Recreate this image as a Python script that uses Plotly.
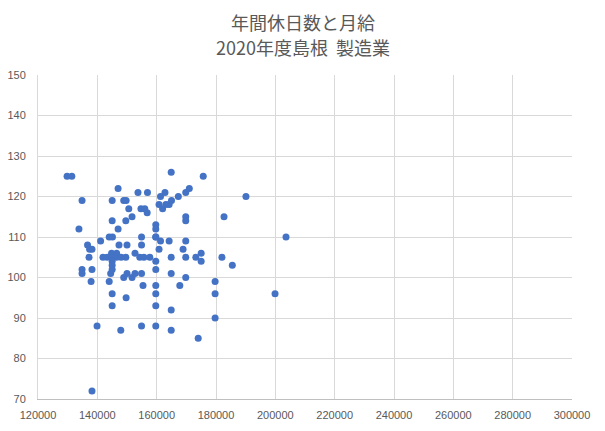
import plotly.graph_objects as go

# 月給 (円) と 年間休日数 — 2020年度 島根 製造業
salary = [
    129800, 131400, 134850, 133800, 136700, 137400, 138200, 137200, 134850, 134850,
    138200, 137900, 139900, 138200, 141100, 144000, 145100, 147000, 145000, 148900,
    149700, 150600, 145000, 149600, 151700, 147000, 147300, 150000, 144800, 146500,
    141900, 143300, 144900, 146500, 148000, 149600, 152700, 154300, 155700, 157700,
    145000, 145000, 145000, 144500, 148900, 150000, 151700, 152700, 154900, 144000,
    145000, 149700, 145000, 147900, 155400, 159700, 159700, 159700, 159700, 159700,
    159700, 159700, 159700, 159700, 159700, 154900, 154900, 153700, 156900, 154700,
    156000, 156800, 160800, 161300, 162000, 162800, 163100, 164200, 165000, 167300,
    169800, 171000, 164900, 175700, 190100, 169800, 169800, 182700, 161300, 164200,
    169800, 203600, 160800, 168900, 175000, 164900, 169800, 173200, 175000, 182000,
    185500, 164900, 169800, 167800, 179700, 179700, 199900, 164900, 179700, 154900,
    164900, 174000,
]
holidays = [
    125, 125, 119, 112, 108, 107, 107, 105, 102, 101,
    102, 99, 88, 72, 109, 110, 110, 122, 119, 119,
    119, 117, 114, 114, 115, 112, 108, 108, 106, 106,
    105, 105, 105, 105, 105, 105, 106, 105, 105, 105,
    104, 103, 102, 101, 100, 101, 100, 101, 101, 99,
    96, 95, 93, 87, 98, 113, 112, 110, 104, 102,
    98, 96, 93, 88, 110, 110, 108, 121, 121, 117,
    117, 116, 118, 120, 117, 121, 118, 118, 119, 120,
    121, 122, 126, 125, 120, 115, 114, 115, 109, 109,
    109, 110, 107, 107, 106, 105, 105, 105, 104, 105,
    103, 101, 100, 98, 99, 96, 96, 92, 90, 88,
    87, 85,
]

title_lines = ["年間休日数と月給", "2020年度島根  製造業"]

fig = go.Figure()
fig.add_trace(go.Scatter(
    x=salary, y=holidays, mode="markers",
    marker=dict(size=7, color="#4472C4"),
))

axis_font = dict(family="Liberation Sans", size=11, color="#595959")

# the page body adds an 8px offset, so the figure is drawn 8px smaller
fig.update_layout(
    width=597, height=423,
    margin=dict(l=30, r=33, t=67, b=32),
    paper_bgcolor="white", plot_bgcolor="white",
    showlegend=False,
    xaxis=dict(
        range=[120000, 300000], dtick=20000, tickformat="d",
        showgrid=True, gridcolor="#d9d9d9", gridwidth=1,
        showline=True, linecolor="#bfbfbf", linewidth=1,
        zeroline=False, ticks="", tickfont=axis_font, ticklabelstandoff=6,
        automargin=False,
    ),
    yaxis=dict(
        range=[70, 150], dtick=10, tickformat="d",
        showgrid=True, gridcolor="#d9d9d9", gridwidth=1,
        showline=True, linecolor="#d9d9d9", linewidth=1,
        zeroline=False, ticks="", tickfont=axis_font, ticklabelstandoff=9,
        automargin=False,
    ),
)

# two-line title, placed as annotations above the plot area
for text, ypos in zip(title_lines, [1.1636, 1.0849]):
    fig.add_annotation(
        text=text, xref="paper", yref="paper", x=0.4956, y=ypos,
        xanchor="center", yanchor="middle", showarrow=False,
        font=dict(family="Noto Sans CJK JP", size=18, color="#595959"),
    )

fig.write_html("out.html")
